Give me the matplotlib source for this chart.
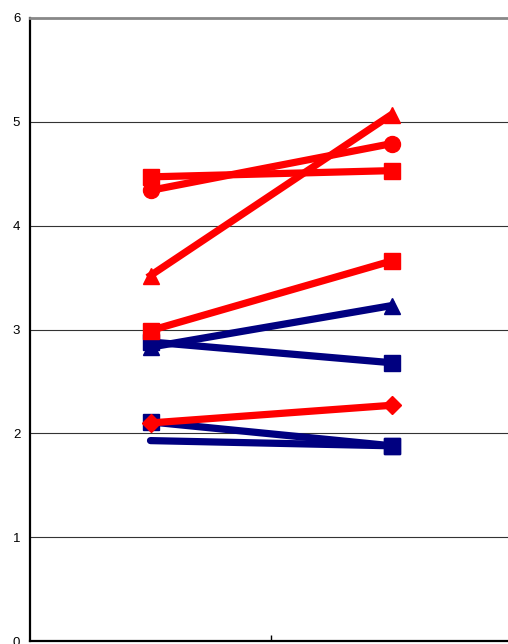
import matplotlib
matplotlib.use("Agg")
import matplotlib.pyplot as plt

plt.rcParams['font.family'] = ['Liberation Sans', 'DejaVu Sans']

# category positions (two groups, centred in each half of the x range)
x_pos = [0.5, 1.5]

# red series
red_sq_top = [4.47, 4.53]
red_circle = [4.34, 4.79]
red_triangle = [3.52, 5.07]
red_sq_mid = [2.99, 3.66]
red_diamond = [2.10, 2.27]

# navy series
blue_triangle = [2.83, 3.23]
blue_sq_mid = [2.88, 2.68]
blue_sq_low = [2.11, 1.88]
blue_plain = [1.93, 1.88]

y_ticks = [0, 1, 2, 3, 4, 5, 6]

RED = '#ff0000'
NAVY = '#000080'

fig = plt.figure(figsize=(5.08, 6.44), dpi=100)
ax = fig.add_axes([30 / 508, 3 / 644, 482 / 508, 623 / 644])

lw = 5.2
ms = 11.5

ax.plot(x_pos, blue_plain, color=NAVY, lw=lw, marker='s', ms=ms, markevery=[1],
        solid_capstyle='round')
ax.plot(x_pos, blue_sq_low, color=NAVY, lw=lw, marker='s', ms=ms)
ax.plot(x_pos, blue_sq_mid, color=NAVY, lw=lw, marker='s', ms=ms)
ax.plot(x_pos, blue_triangle, color=NAVY, lw=lw, marker='^', ms=ms)
ax.plot(x_pos, red_diamond, color=RED, lw=lw, marker='D', ms=9)
ax.plot(x_pos, red_sq_mid, color=RED, lw=lw, marker='s', ms=ms)
ax.plot(x_pos, red_triangle, color=RED, lw=lw, marker='^', ms=ms)
ax.plot(x_pos, red_circle, color=RED, lw=lw, marker='o', ms=ms)
ax.plot(x_pos, red_sq_top, color=RED, lw=lw, marker='s', ms=ms)

ax.set_xlim(0, 2)
ax.set_ylim(0, 6)
ax.set_yticks(y_ticks)
ax.set_xticks([1])
ax.set_xticklabels([''])
ax.tick_params(axis='y', length=0, labelsize=9.5, pad=7)
ax.tick_params(axis='x', direction='in', length=4, width=1)

for v in y_ticks[1:-1]:
    ax.axhline(v, color='#333333', lw=0.8, zorder=0)

ax.spines['top'].set_color('#888888')
ax.spines['top'].set_linewidth(2)
ax.spines['left'].set_linewidth(1.6)
ax.spines['bottom'].set_linewidth(1.6)
ax.spines['right'].set_visible(False)

fig.savefig('out.png', dpi=100)
